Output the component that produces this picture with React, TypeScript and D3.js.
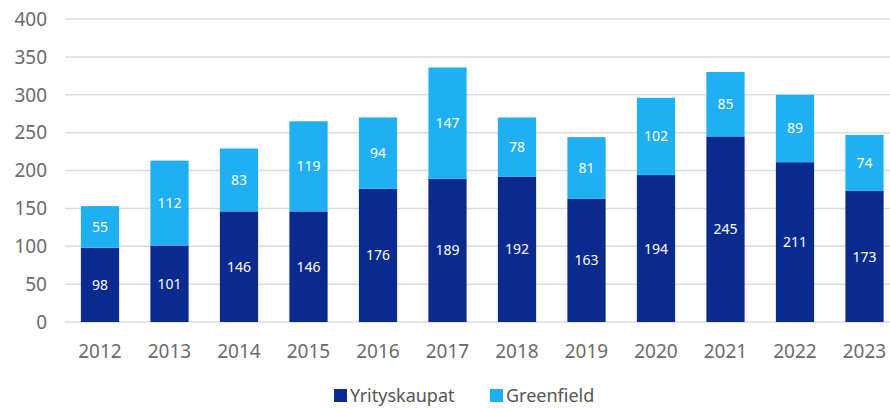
import React, { useEffect, useRef } from 'react';
import * as d3 from 'd3';

const YEARS = ['2012', '2013', '2014', '2015', '2016', '2017', '2018', '2019', '2020', '2021', '2022', '2023'];
const YRITYSKAUPAT = [98, 101, 146, 146, 176, 189, 192, 163, 194, 245, 211, 173];
const GREENFIELD = [55, 112, 83, 119, 94, 147, 78, 81, 102, 85, 89, 74];
const Y_TICKS = [0, 50, 100, 150, 200, 250, 300, 350, 400];
const SERIES = ['Yrityskaupat', 'Greenfield'];
const COLORS = ['#0b2a8e', '#1eb0f2'];

const FONT = '"Noto Sans", "Open Sans", sans-serif';

function App() {
  const svgRef = useRef<SVGSVGElement>(null);

  useEffect(() => {
    const svg = d3.select(svgRef.current);
    svg.selectAll('*').remove();

    const width = 890;
    const height = 408;

    const x = d3.scaleBand()
      .domain(YEARS)
      .range([65.25, 899.25])
      .paddingInner(0.45)
      .paddingOuter(0.225);

    const y = d3.scaleLinear()
      .domain([0, 400])
      .range([322, 19]);

    // gridlines
    svg.append('g')
      .selectAll('line')
      .data(Y_TICKS)
      .enter().append('line')
      .attr('x1', 65)
      .attr('x2', width)
      .attr('y1', d => y(d))
      .attr('y2', d => y(d))
      .attr('stroke', '#dcdcdc')
      .attr('stroke-width', 1.5);

    // y labels
    svg.append('g')
      .selectAll('text')
      .data(Y_TICKS)
      .enter().append('text')
      .attr('x', 47)
      .attr('y', d => y(d))
      .attr('dy', '0.36em')
      .attr('text-anchor', 'end')
      .attr('fill', '#6b6b6b')
      .style('font-family', FONT)
      .style('font-size', '19px')
      .text(d => d);

    const rows = YEARS.map((year, i) => ({ year, Yrityskaupat: YRITYSKAUPAT[i], Greenfield: GREENFIELD[i] }));
    const stacked = d3.stack<any>().keys(SERIES)(rows);

    stacked.forEach((layer, li) => {
      const g = svg.append('g');
      g.selectAll('rect')
        .data(layer)
        .enter().append('rect')
        .attr('x', d => x(d.data.year)!)
        .attr('width', x.bandwidth())
        .attr('y', d => y(d[1]))
        .attr('height', d => y(d[0]) - y(d[1]))
        .attr('fill', COLORS[li]);

      g.selectAll('text')
        .data(layer)
        .enter().append('text')
        .attr('x', d => x(d.data.year)! + x.bandwidth() / 2)
        .attr('y', d => (y(d[0]) + y(d[1])) / 2)
        .attr('dy', '0.36em')
        .attr('text-anchor', 'middle')
        .attr('fill', '#ffffff')
        .style('font-family', FONT)
        .style('font-size', '14px')
        .text(d => d[1] - d[0]);
    });

    // x labels
    svg.append('g')
      .selectAll('text')
      .data(YEARS)
      .enter().append('text')
      .attr('x', d => x(d)! + x.bandwidth() / 2)
      .attr('y', 358)
      .attr('text-anchor', 'middle')
      .attr('fill', '#6b6b6b')
      .style('font-family', FONT)
      .style('font-size', '19px')
      .text(d => d);

    // legend
    const legendX = [334, 490];
    const legend = svg.append('g');
    SERIES.forEach((name, i) => {
      legend.append('rect')
        .attr('x', legendX[i])
        .attr('y', 389)
        .attr('width', 13)
        .attr('height', 13)
        .attr('fill', COLORS[i]);
      legend.append('text')
        .attr('x', legendX[i] + 16)
        .attr('y', 402)
        .attr('fill', '#555')
        .style('font-family', FONT)
        .style('font-size', '18px')
        .text(name);
    });
  }, []);

  return (
    <svg ref={svgRef} width={890} height={408} style={{ position: 'absolute', left: 0, top: 0 }}></svg>
  );
}

export default App;
